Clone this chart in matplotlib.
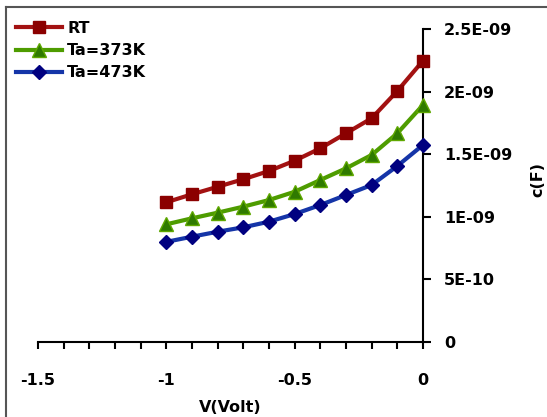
import matplotlib
matplotlib.use("Agg")
import matplotlib.pyplot as plt
from matplotlib.lines import Line2D
from matplotlib.ticker import FixedLocator, FixedFormatter, MultipleLocator

voltage = [-1.0, -0.9, -0.8, -0.7, -0.6, -0.5, -0.4, -0.3, -0.2, -0.1, 0.0]
c_rt = [1.116e-9, 1.18e-9, 1.24e-9, 1.30e-9, 1.366e-9, 1.448e-9, 1.547e-9, 1.667e-9, 1.787e-9, 2.005e-9, 2.247e-9]
c_373 = [0.94e-9, 0.988e-9, 1.033e-9, 1.081e-9, 1.134e-9, 1.20e-9, 1.294e-9, 1.387e-9, 1.494e-9, 1.667e-9, 1.893e-9]
c_473 = [0.80e-9, 0.841e-9, 0.881e-9, 0.916e-9, 0.961e-9, 1.022e-9, 1.094e-9, 1.174e-9, 1.254e-9, 1.406e-9, 1.574e-9]
series_labels = ["RT", "Ta=373K", "Ta=473K"]

x_ticks = [-1.5, -1.0, -0.5, 0.0]
x_tick_labels = ["-1.5", "-1", "-0.5", "0"]
y_ticks = [0, 0.5e-9, 1.0e-9, 1.5e-9, 2.0e-9, 2.5e-9]
y_tick_labels = ["0", "5E-10", "1E-09", "1.5E-09", "2E-09", "2.5E-09"]

FS = 11.5
plt.rcParams["font.family"] = ["DejaVu Sans"]
plt.rcParams["font.weight"] = "bold"

fig = plt.figure(figsize=(5.47, 4.17), dpi=100)
W, H = 547, 417
ax = fig.add_axes([38 / W, 1 - 342 / H, (423 - 38) / W, (342 - 29) / H])

ax.plot(voltage, c_rt, color="#A31212", lw=3, marker="s", ms=8,
        mfc="#8B0000", mec="#8B0000", clip_on=False, label=series_labels[0], zorder=3)
ax.plot(voltage, c_373, color="#4E9C00", lw=3, marker="^", ms=9.5,
        mfc="#2F7A00", mec="#5FA800", mew=1, clip_on=False, label=series_labels[1], zorder=3)
ax.plot(voltage, c_473, color="#1535A8", lw=3, marker="D", ms=7,
        mfc="#000080", mec="#000080", clip_on=False, label=series_labels[2], zorder=3)

ax.set_xlim(-1.5, 0)
ax.set_ylim(0, 2.5e-9)

for s in ["top", "left"]:
    ax.spines[s].set_visible(False)
ax.spines["right"].set_linewidth(1.5)
ax.spines["bottom"].set_linewidth(1.5)

ax.xaxis.set_major_locator(FixedLocator(x_ticks))
ax.xaxis.set_major_formatter(FixedFormatter(x_tick_labels))
ax.xaxis.set_minor_locator(MultipleLocator(0.1))
ax.yaxis.set_major_locator(FixedLocator(y_ticks))
ax.yaxis.set_major_formatter(FixedFormatter(y_tick_labels))
ax.yaxis.tick_right()
ax.yaxis.set_label_position("right")

ax.tick_params(axis="x", which="both", direction="out", length=5, width=1.5,
               pad=17, labelsize=FS)
ax.tick_params(axis="y", which="both", direction="out", length=6, width=1.5,
               pad=9, labelsize=FS)
for lab in ax.get_xticklabels() + ax.get_yticklabels():
    lab.set_fontweight("bold")

ax.set_xlabel("V(Volt)", fontsize=FS, fontweight="bold")
ax.xaxis.set_label_coords(0.5, -0.186)
ax.set_ylabel("c(F)", fontsize=FS, fontweight="bold", rotation=90)
ax.yaxis.set_label_coords(1.278, 0.518)

leg = fig.legend(loc="upper left", bbox_to_anchor=(16 / W, 1 - 21 / H),
                 frameon=False, fontsize=FS, handlelength=2.9, handletextpad=0.3,
                 labelspacing=0.45, borderpad=0, borderaxespad=0)
for t in leg.get_texts():
    t.set_fontweight("bold")

# outer frame (left and top edges)
fig.add_artist(Line2D([6 / W, 6 / W], [0, 1 - 7 / H], transform=fig.transFigure,
                      color="#555555", lw=1.5))
fig.add_artist(Line2D([6 / W, 1], [1 - 7 / H, 1 - 7 / H], transform=fig.transFigure,
                      color="#555555", lw=1.5))

fig.savefig("out.png", dpi=100)
